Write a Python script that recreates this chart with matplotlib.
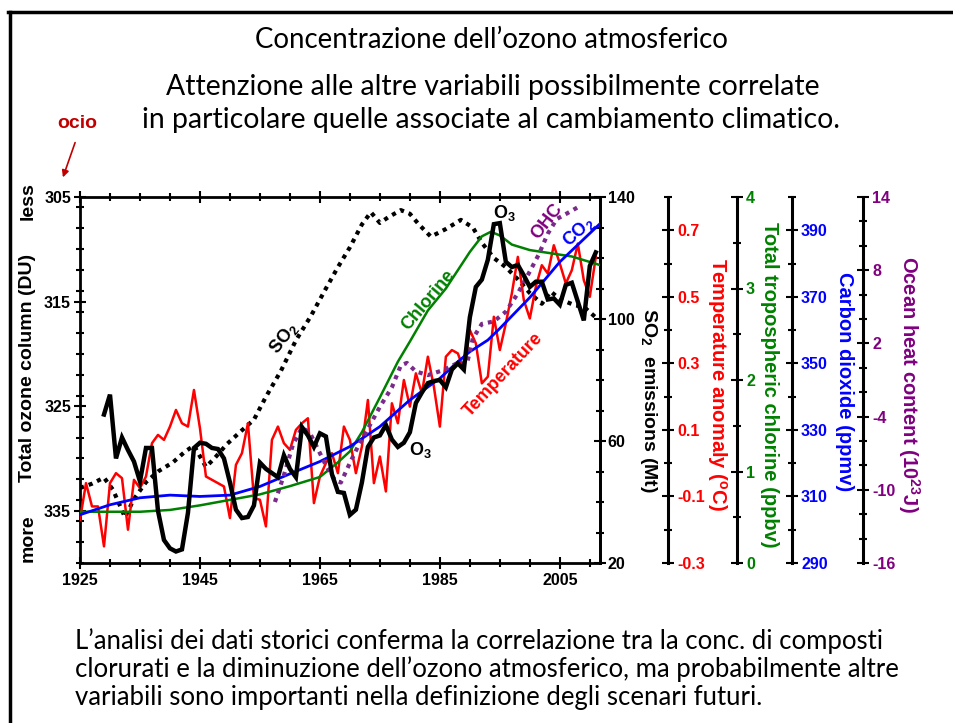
import matplotlib
matplotlib.use("Agg")
import matplotlib.pyplot as plt
from matplotlib.lines import Line2D
from matplotlib.ticker import MultipleLocator, FixedLocator, FormatStrFormatter
from matplotlib.patches import FancyArrowPatch

plt.rcParams['font.family'] = ['Liberation Sans', 'DejaVu Sans']
plt.rcParams['font.weight'] = 'bold'
plt.rcParams['axes.unicode_minus'] = False
plt.rcParams['mathtext.fontset'] = 'custom'
plt.rcParams['mathtext.rm'] = 'Liberation Sans:bold'
plt.rcParams['mathtext.bf'] = 'Liberation Sans:bold'
plt.rcParams['mathtext.it'] = 'Liberation Sans:bold:italic'

# ---------------- data ----------------
# total ozone column (DU), annual
ozone_years = list(range(1929, 2012))
ozone_du = [325.8, 323.9, 330.0, 328.0, 329.2, 330.3, 332.2, 329.0, 329.0, 335.0,
            337.8, 338.6, 338.9, 338.7, 335.2, 329.0, 328.5, 328.6, 329.0, 329.1,
            330.0, 332.3, 334.9, 335.7, 335.6, 334.5, 330.4, 331.0, 331.4, 331.8,
            329.7, 331.0, 331.8, 327.0, 327.8, 328.9, 327.6, 327.9, 331.5, 333.2,
            333.3, 335.4, 334.9, 332.3, 328.9, 328.0, 327.8, 326.8, 328.2, 328.9,
            328.5, 327.5, 324.7, 323.7, 322.8, 322.6, 322.5, 323.2, 321.5, 320.9,
            321.5, 316.5, 313.6, 312.9, 311.0, 307.6, 307.5, 311.2, 311.7, 311.5,
            312.5, 313.6, 313.1, 313.1, 314.8, 314.7, 315.3, 313.4, 313.2, 315.0,
            316.8, 311.6, 310.3]

# temperature anomaly (deg C), annual
temp_years = list(range(1925, 2012))
temp_anom = [-0.17, -0.06, -0.13, -0.13, -0.25, -0.06, -0.03, -0.045, -0.20, -0.05,
             -0.075, -0.04, 0.06, 0.085, 0.07, 0.11, 0.16, 0.12, 0.11, 0.22,
             0.105, -0.04, -0.05, -0.06, -0.07, -0.165, -0.005, 0.03, 0.12, -0.105,
             -0.11, -0.19, 0.07, 0.11, 0.06, 0.04, 0.10, 0.12, 0.135, -0.12,
             -0.04, 0.0, 0.03, -0.03, 0.11, 0.07, -0.03, 0.05, 0.19, -0.06,
             0.02, -0.085, 0.18, 0.12, 0.25, 0.17, 0.27, 0.21, 0.32, 0.23,
             0.11, 0.32, 0.34, 0.33, 0.28, 0.40, 0.36, 0.24, 0.26, 0.44,
             0.34, 0.42, 0.51, 0.62, 0.49, 0.435, 0.53, 0.595, 0.57, 0.655,
             0.60, 0.54, 0.58, 0.66, 0.55, 0.50, 0.62]

# SO2 emissions (Mt)
so2_years = [1925, 1927, 1929, 1930.5, 1932.5, 1934, 1936, 1938, 1940.5, 1942.5,
             1944, 1946, 1947.5, 1949.5, 1952, 1954, 1956, 1958.5, 1961, 1963.5,
             1966, 1968, 1970, 1972, 1973.5, 1975, 1976.5, 1978.5, 1980, 1981.5,
             1983.5, 1986, 1988.5, 1990.5, 1992, 1994, 1996, 1998, 2000, 2002,
             2003.5, 2005, 2007.5, 2009, 2011]
so2_mt = [44.6, 46.0, 48.0, 44.0, 35.0, 41.0, 46.5, 50.0, 53.0, 56.5,
          58.5, 51.5, 54.5, 59.0, 63.5, 67.0, 74.5, 83.0, 93.0, 101.0,
          110.0, 117.0, 123.5, 131.0, 135.0, 131.5, 133.5, 135.7, 134.5, 131.0,
          127.0, 129.5, 132.5, 130.0, 125.0, 120.0, 117.0, 113.0, 108.5, 105.0,
          109.0, 106.5, 104.5, 104.0, 100.5]

# total tropospheric chlorine (ppbv)
cl_years = [1925, 1935, 1940, 1945, 1950, 1955, 1960, 1965, 1968, 1970, 1972, 1975,
            1978, 1980, 1983, 1986, 1988, 1990, 1992, 1993.5, 1995, 1997, 2000,
            2003, 2007, 2012]
cl_ppbv = [0.56, 0.56, 0.58, 0.63, 0.69, 0.75, 0.84, 0.94, 1.10, 1.22, 1.43, 1.81,
           2.20, 2.42, 2.76, 3.00, 3.20, 3.40, 3.57, 3.62, 3.58, 3.48, 3.42,
           3.39, 3.35, 3.25]

# carbon dioxide (ppmv)
co2_years = [1925, 1930, 1935, 1940, 1945, 1950, 1955, 1960, 1965, 1970, 1975,
             1980, 1985, 1988, 1990, 1993, 1995, 2000, 2005, 2012]
co2_ppmv = [304.5, 307.5, 309.6, 310.4, 310.0, 310.4, 313.0, 316.8, 320.5, 325.0,
            331.0, 339.0, 345.5, 350.5, 353.5, 357.0, 360.5, 369.8, 380.5, 392.5]

# ocean heat content (1e23 J)
ohc_years = [1957.5, 1959, 1960.5, 1962, 1963.3, 1964.5, 1966, 1967.5, 1968.5, 1970,
             1971.5, 1973, 1975, 1977, 1978.5, 1979.5, 1981, 1983, 1985.5, 1988,
             1989.5, 1990.5, 1992, 1994, 1996, 1998, 2000, 2001.5, 2003, 2004.5,
             2006, 2008.5]
ohc_val = [-11.0, -8.8, -6.3, -4.9, -5.3, -6.5, -8.0, -9.2, -9.4, -7.8,
           -6.3, -5.0, -3.2, -1.6, 0.2, 0.4, -0.3, -0.6, -0.2, 0.4,
           0.3, 2.4, 3.6, 3.8, 4.6, 6.1, 7.9, 9.3, 11.0, 12.2,
           12.6, 13.3]

year_ticks = [1925, 1945, 1965, 1985, 2005]
ozone_ticks = [305, 315, 325, 335]
so2_ticks = [20, 60, 100, 140]
temp_ticks = [-0.3, -0.1, 0.1, 0.3, 0.5, 0.7]
cl_ticks = [0, 1, 2, 3, 4]
co2_ticks = [290, 310, 330, 350, 370, 390]
ohc_ticks = [-16, -10, -4, 2, 8, 14]

RED = '#ff0000'
GREEN = '#008000'
BLUE = '#0000ff'
PURPLE = '#800080'
OCIO = '#c00000'

W, H = 954, 723
fig = plt.figure(figsize=(W / 100, H / 100), dpi=100)
fig.patch.set_facecolor('white')


def fx(px):
    return px / W


def fy(py):
    return 1 - py / H


ax = fig.add_axes([fx(80), fy(563), 520 / W, 366 / H])
ax.set_xlim(1925, 2011.7)
ax.set_ylim(340, 305)

TICK = dict(direction='inout', width=1.5)


def style_ticks(a, axis, major_len=9, minor_len=6, pad=2, **kw):
    a.tick_params(axis=axis, which='major', length=major_len, pad=pad, labelsize=11.5, **TICK, **kw)
    a.tick_params(axis=axis, which='minor', length=minor_len, **TICK)


for s in ax.spines.values():
    s.set_linewidth(2)

ax.xaxis.set_major_locator(FixedLocator(year_ticks))
ax.xaxis.set_minor_locator(MultipleLocator(5))
ax.yaxis.set_major_locator(FixedLocator(ozone_ticks))
ax.yaxis.set_minor_locator(MultipleLocator(2))
style_ticks(ax, 'x', top=True, pad=3)
style_ticks(ax, 'y', right=False)
ax.tick_params(axis='x', which='minor', top=True)


def make_twin(lo, hi, pos):
    t = ax.twinx()
    t.set_ylim(lo, hi)
    for s in ('left', 'top', 'bottom'):
        t.spines[s].set_visible(False)
    t.spines['right'].set_position(('axes', pos))
    t.spines['right'].set_linewidth(2.2)
    t.patch.set_visible(False)
    return t


# SO2 axis on the right frame
ax_so2 = make_twin(20, 140, 1.0)
ax_so2.spines['right'].set_linewidth(2)
ax_so2.yaxis.set_major_locator(FixedLocator(so2_ticks))
ax_so2.yaxis.set_minor_locator(MultipleLocator(10))
style_ticks(ax_so2, 'y', pad=1)

ax_t = make_twin(-0.3, 0.8, 1.1308)
ax_t.yaxis.set_major_locator(FixedLocator(temp_ticks))
ax_t.yaxis.set_minor_locator(MultipleLocator(0.1))
ax_t.yaxis.set_major_formatter(FormatStrFormatter('%.1f'))
style_ticks(ax_t, 'y', labelcolor=RED)

ax_cl = make_twin(0, 4, 1.2635)
ax_cl.yaxis.set_major_locator(FixedLocator(cl_ticks))
ax_cl.yaxis.set_minor_locator(MultipleLocator(0.5))
style_ticks(ax_cl, 'y', labelcolor=GREEN)

ax_co2 = make_twin(290, 400, 1.3692)
ax_co2.yaxis.set_major_locator(FixedLocator(co2_ticks))
ax_co2.yaxis.set_minor_locator(MultipleLocator(10))
style_ticks(ax_co2, 'y', labelcolor=BLUE)

ax_ohc = make_twin(-16, 14, 1.5058)
ax_ohc.yaxis.set_major_locator(FixedLocator(ohc_ticks))
ax_ohc.yaxis.set_minor_locator(MultipleLocator(2))
style_ticks(ax_ohc, 'y', labelcolor=PURPLE)

# series
dots = (0, (1, 1.2))
ax_so2.plot(so2_years, so2_mt, color='black', lw=3, linestyle=dots)
ax_t.plot(temp_years, temp_anom, color=RED, lw=1.8)
ax_cl.plot(cl_years, cl_ppbv, color=GREEN, lw=1.8)
ax_ohc.plot(ohc_years, ohc_val, color='#7b2a8b', lw=3, linestyle=dots)
ax_co2.plot(co2_years, co2_ppmv, color=BLUE, lw=2)

# ozone drawn on top of everything
ax_o3 = ax.twinx()
ax_o3.set_ylim(340, 305)
ax_o3.axis('off')
ax_o3.plot(ozone_years, ozone_du, color='black', lw=3.2, solid_joinstyle='miter')

# in-plot series labels (ozone-axis data coordinates)
ax_o3.text(1959.0, 318.5, r'SO$_2$', color='black', fontsize=13, rotation=52,
           ha='center', va='center')
ax_o3.text(1983.0, 314.9, 'Chlorine', color=GREEN, fontsize=13, rotation=50,
           ha='center', va='center')
ax_o3.text(1995.5, 322.0, 'Temperature', color=RED, fontsize=13, rotation=47,
           ha='center', va='center')
ax_o3.text(1995.8, 306.5, r'O$_3$', color='black', fontsize=13, ha='center', va='center')
ax_o3.text(1981.7, 329.2, r'O$_3$', color='black', fontsize=13, ha='center', va='center')
ax_o3.text(2002.8, 307.3, 'OHC', color=PURPLE, fontsize=13, rotation=52,
           ha='center', va='center')
ax_o3.text(2008.2, 308.3, r'CO$_2$', color=BLUE, fontsize=13, rotation=42,
           ha='center', va='center')

# axis titles
fig.text(fx(28), fy(368), 'Total ozone column (DU)', rotation=90, fontsize=14,
         ha='center', va='center')
fig.text(fx(28), fy(201), 'less', rotation=90, fontsize=14, ha='center', va='center')
fig.text(fx(28), fy(538), 'more', rotation=90, fontsize=14, ha='center', va='center')
fig.text(fx(649), fy(400), r'SO$_2$  emissions (Mt)', rotation=270, fontsize=14,
         ha='center', va='center')
fig.text(fx(717), fy(385), r'Temperature anomaly ($^{\mathrm{o}}$C)', rotation=270,
         fontsize=14.5, color=RED, ha='center', va='center')
fig.text(fx(770), fy(385), 'Total tropospheric chlorine (ppbv)', rotation=270,
         fontsize=14.5, color=GREEN, ha='center', va='center')
fig.text(fx(845), fy(382), 'Carbon dioxide (ppmv)', rotation=270,
         fontsize=14.5, color=BLUE, ha='center', va='center')
fig.text(fx(909), fy(384), r'Ocean heat content (10$^{23}$J)', rotation=270,
         fontsize=14.5, color=PURPLE, ha='center', va='center')

# slide text
SLIDE = dict(fontfamily='Lato', weight='normal', color='black')
fig.text(fx(491), fy(40), 'Concentrazione dell’ozono atmosferico', fontsize=19.9,
         ha='center', va='center', **SLIDE)
fig.text(fx(493), fy(87), 'Attenzione alle altre variabili possibilmente correlate',
         fontsize=20.4, ha='center', va='center', **SLIDE)
fig.text(fx(491), fy(120), 'in particolare quelle associate al cambiamento climatico.',
         fontsize=20.4, ha='center', va='center', **SLIDE)
bottom_lines = ['L’analisi dei dati storici conferma la correlazione tra la conc. di composti',
                'clorurati e la diminuzione dell’ozono atmosferico, ma probabilmente altre',
                'variabili sono importanti nella definizione degli scenari futuri.']
for i, line in enumerate(bottom_lines):
    fig.text(fx(75), fy(641 + 28 * i), line, fontsize=18.5, ha='left', va='center', **SLIDE)

fig.text(fx(77), fy(124), 'ocio', color=OCIO, fontsize=14, ha='center', va='center')
fig.add_artist(FancyArrowPatch(
    (fx(76), fy(140)), (fx(62), fy(180)), transform=fig.transFigure,
    arrowstyle='-|>', mutation_scale=10, color=OCIO, lw=1.2))

# slide frame
fig.add_artist(Line2D([fx(8), 1], [fy(12), fy(12)], transform=fig.transFigure,
                      color='black', lw=2.5))
fig.add_artist(Line2D([fx(10), fx(10)], [fy(12), 0], transform=fig.transFigure,
                      color='black', lw=2.5))

fig.savefig('out.png', dpi=100)
